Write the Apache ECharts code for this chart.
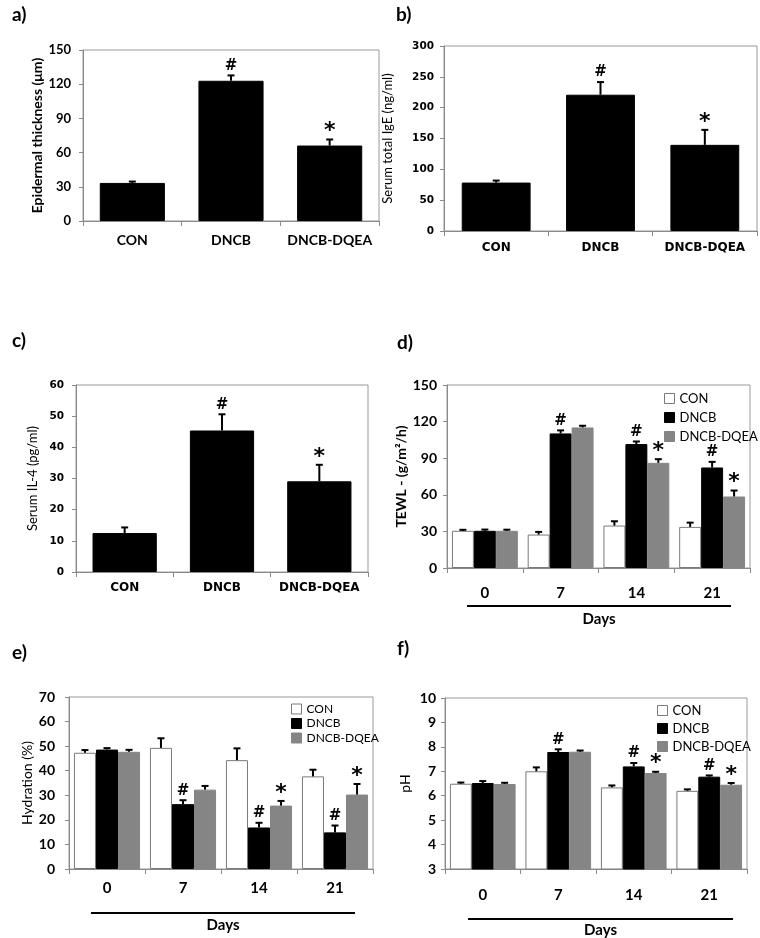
<!DOCTYPE html>
<html><head><meta charset="utf-8">
<script src="https://cdn.jsdelivr.net/npm/echarts@6/dist/echarts.min.js"></script>
<style>html,body{margin:0;padding:0;background:#fff}#c{width:760px;height:938px}</style>
</head><body><div id="c"></div>
<script>
// ---- data ----
const groups3 = ['CON', 'DNCB', 'DNCB-DQEA'];
const days = ['0', '7', '14', '21'];

const epiMean = [33.4, 123, 66.2];
const epiErr  = [1.2, 4.7, 5.3];
const epiSig  = ['', '#', '*'];

const igeMean = [78.5, 221, 139.7];
const igeErr  = [3.3, 20.5, 24.3];
const igeSig  = ['', '#', '*'];

const il4Mean = [12.5, 45.4, 29.1];
const il4Err  = [1.8, 5.2, 5.3];
const il4Sig  = ['', '#', '*'];

const tewlCon  = [30.5, 27.4, 34.8, 33.7];
const tewlConE = [0.8, 2.2, 3.5, 3.5];
const tewlDn   = [30.5, 110.3, 101.6, 82.4];
const tewlDnE  = [1.0, 2.5, 2.1, 4.6];
const tewlDq   = [30.5, 115.2, 86.2, 58.6];
const tewlDqE  = [0.9, 1.4, 3.0, 4.9];
const tewlSigCon = ['', '', '', ''];
const tewlSigDn  = ['', '#', '#', '#'];
const tewlSigDq  = ['', '', '*', '*'];

const hydCon  = [47.3, 49.3, 44.3, 37.7];
const hydConE = [1.1, 3.9, 4.8, 2.7];
const hydDn   = [48.6, 26.4, 16.9, 14.9];
const hydDnE  = [0.6, 1.6, 1.9, 2.8];
const hydDq   = [47.7, 32.3, 25.8, 30.3];
const hydDqE  = [0.8, 1.5, 1.9, 4.3];
const hydSigCon = ['', '', '', ''];
const hydSigDn  = ['', '#', '#', '#'];
const hydSigDq  = ['', '', '*', '*'];

const phCon  = [6.49, 7.0, 6.34, 6.2];
const phConE = [0.05, 0.16, 0.08, 0.06];
const phDn   = [6.52, 7.79, 7.2, 6.78];
const phDnE  = [0.08, 0.11, 0.14, 0.05];
const phDq   = [6.48, 7.8, 6.93, 6.45];
const phDqE  = [0.05, 0.05, 0.05, 0.07];
const phSigCon = ['', '', '', ''];
const phSigDn  = ['', '#', '#', '#'];
const phSigDq  = ['', '', '*', '*'];

// ---- styles ----
const WHITE = '#ffffff', BLACK = '#000000', GRAY = '#858585';
const FONT = 'Lato';
const WIDE = 'DejaVu Sans';

const chart = echarts.init(document.getElementById('c'), null, {renderer: 'canvas'});

const grids = [
  {left: 83, top: 50, width: 296, height: 171},
  {left: 444, top: 46, width: 313, height: 185},
  {left: 76, top: 385, width: 292, height: 187},
  {left: 447, top: 385, width: 303, height: 183},
  {left: 69, top: 697, width: 304, height: 172},
  {left: 445, top: 698, width: 302, height: 171}
].map(g => Object.assign({show: true, borderColor: '#9a9a9a', borderWidth: 1, containLabel: false}, g));

function xAx(gi, cats, font, size, margin) {
  return {
    type: 'category', gridIndex: gi, data: cats,
    axisLine: {lineStyle: {color: '#8a8a8a', width: 1}},
    axisTick: {show: true, length: 5, lineStyle: {color: '#8a8a8a'}},
    axisLabel: {color: '#000', fontFamily: font, fontWeight: 'bold', fontSize: size, margin: margin,
      interval: 0, hideOverlap: false}
  };
}
function yAx(gi, min, max, interval, name, nameGap, nameFont, nameSize, nameWeight, lblFont, lblSize, lblMargin) {
  return {
    type: 'value', gridIndex: gi, min: min, max: max, interval: interval,
    name: name, nameLocation: 'middle', nameGap: nameGap,
    nameTextStyle: {color: '#000', fontFamily: nameFont, fontSize: nameSize, fontWeight: nameWeight},
    splitLine: {show: false},
    axisLine: {show: true, lineStyle: {color: '#8a8a8a', width: 1}},
    axisTick: {show: true, length: 4, lineStyle: {color: '#8a8a8a'}},
    axisLabel: {color: '#000', fontFamily: lblFont, fontWeight: 'bold', fontSize: lblSize, margin: lblMargin}
  };
}

function barSeries(gi, name, data, color, gap) {
  return {
    type: 'bar', name: name, xAxisIndex: gi, yAxisIndex: gi, data: data,
    barGap: '0%', barCategoryGap: gap,
    itemStyle: {color: color, borderColor: color === WHITE ? '#7a7a7a' : color, borderWidth: 1},
    silent: true
  };
}

function errSeries(gi, name, means, errs, sigs, idx, n, gapFrac) {
  return {
    type: 'custom', name: name + ' err', xAxisIndex: gi, yAxisIndex: gi,
    data: means.map((m, i) => [i, m, errs[i]]),
    silent: true, z: 5,
    renderItem: function (params, api) {
      const ci = api.value(0), m = api.value(1), e = api.value(2);
      const base = api.coord([ci, m]);
      const top = api.coord([ci, m + e]);
      const catW = api.size([1, 0])[0];
      const bw = catW * (1 - gapFrac) / n;
      const x = base[0] + (idx - (n - 1) / 2) * bw;
      const sig = sigs[params.dataIndex];
      const children = [
        {type: 'line', shape: {x1: x, y1: base[1], x2: x, y2: top[1]}, style: {stroke: '#000', lineWidth: 2}},
        {type: 'line', shape: {x1: x - 3.5, y1: top[1], x2: x + 3.5, y2: top[1]}, style: {stroke: '#000', lineWidth: 2}}
      ];
      if (sig) {
        children.push({
          type: 'text',
          style: {
            text: sig, x: x, y: top[1] - (sig === '*' ? -3 : 2),
            align: 'center', verticalAlign: 'bottom',
            fontFamily: 'DejaVu Sans', fontWeight: 'bold',
            fontSize: sig === '*' ? 22 : 15, fill: '#000'
          }
        });
      }
      return {type: 'group', children: children};
    }
  };
}

const series = [];
// a, b, c single series
[[0, epiMean, epiErr, epiSig], [1, igeMean, igeErr, igeSig], [2, il4Mean, il4Err, il4Sig]].forEach(([gi, m, e, s]) => {
  series.push(barSeries(gi, 'single' + gi, m, BLACK, '34%'));
  series.push(errSeries(gi, 'single' + gi, m, e, s, 0, 1, 0.34));
});
// d, e, f grouped
const grouped = [
  [3, [[tewlCon, tewlConE, tewlSigCon], [tewlDn, tewlDnE, tewlSigDn], [tewlDq, tewlDqE, tewlSigDq]]],
  [4, [[hydCon, hydConE, hydSigCon], [hydDn, hydDnE, hydSigDn], [hydDq, hydDqE, hydSigDq]]],
  [5, [[phCon, phConE, phSigCon], [phDn, phDnE, phSigDn], [phDq, phDqE, phSigDq]]]
];
const cols = [WHITE, BLACK, GRAY];
grouped.forEach(([gi, sets]) => {
  sets.forEach(([m, e, s], k) => {
    series.push(barSeries(gi, groups3[k], m, cols[k], '13%'));
  });
  sets.forEach(([m, e, s], k) => {
    series.push(errSeries(gi, groups3[k], m, e, s, k, 3, 0.13));
  });
});

function legendAt(left, top, gap, size) {
  return {
    data: groups3, orient: 'vertical', left: left, top: top,
    itemWidth: 10, itemHeight: 10, itemGap: gap, icon: 'rect',
    selectedMode: false,
    itemStyle: {borderWidth: 1},
    textStyle: {fontFamily: FONT, fontSize: size, color: '#000'},
    padding: 0
  };
}

function panelTitle(txt, left, top) {
  return {text: txt, left: left, top: top, padding: 0,
    textStyle: {fontFamily: FONT, fontWeight: 'bold', fontSize: 19, color: '#000'}};
}

function daysDecor(x1, x2, y, ty) {
  return [
    {type: 'line', shape: {x1: x1, y1: y, x2: x2, y2: y}, style: {stroke: '#000', lineWidth: 2}, silent: true},
    {type: 'text', x: (x1 + x2) / 2, y: ty, style: {text: 'Days', align: 'center', verticalAlign: 'middle',
      fontFamily: FONT, fontWeight: 'bold', fontSize: 15, fill: '#000'}, silent: true}
  ];
}

const option = {
  animation: false,
  backgroundColor: '#fff',
  textStyle: {fontFamily: FONT},
  title: [
    panelTitle('a)', 12, 5),
    panelTitle('b)', 396, 5),
    panelTitle('c)', 12, 331),
    panelTitle('d)', 397, 333),
    panelTitle('e)', 12, 643),
    panelTitle('f)', 397, 639)
  ],
  legend: [
    legendAt(664, 392, 6, 13),
    legendAt(291, 703, 2.5, 12),
    legendAt(657, 704, 5, 13)
  ],
  grid: grids,
  xAxis: [
    xAx(0, groups3, FONT, 14, 12),
    xAx(1, groups3, WIDE, 12, 11),
    xAx(2, groups3, WIDE, 12, 10),
    xAx(3, days, FONT, 15, 18),
    xAx(4, days, FONT, 15, 12),
    xAx(5, days, FONT, 15, 19)
  ],
  yAxis: [
    yAx(0, 0, 150, 30, 'Epidermal thickness (\u03bcm)', 28, FONT, 14, 'bold', FONT, 13, 12),
    yAx(1, 0, 300, 50, 'Serum total IgE (ng/ml)', 50, FONT, 13, 'normal', WIDE, 10.5, 10),
    yAx(2, 0, 60, 10, 'Serum IL-4 (pg/ml)', 37, FONT, 13, 'normal', WIDE, 10.5, 12),
    yAx(3, 0, 150, 30, 'TEWL - (g/m\u00b2/h)', 35, FONT, 14, 'bold', FONT, 14, 10),
    yAx(4, 0, 70, 10, 'Hydration (%)', 35, FONT, 14, 'normal', FONT, 14, 14),
    yAx(5, 3, 10, 1, 'pH', 33, FONT, 14, 'normal', FONT, 14, 9)
  ],
  series: series,
  graphic: [].concat(
    daysDecor(467, 731, 606, 619),
    daysDecor(91, 355, 913, 925),
    daysDecor(468, 733, 919, 930)
  )
};
chart.setOption(option);
</script>
</body></html>
